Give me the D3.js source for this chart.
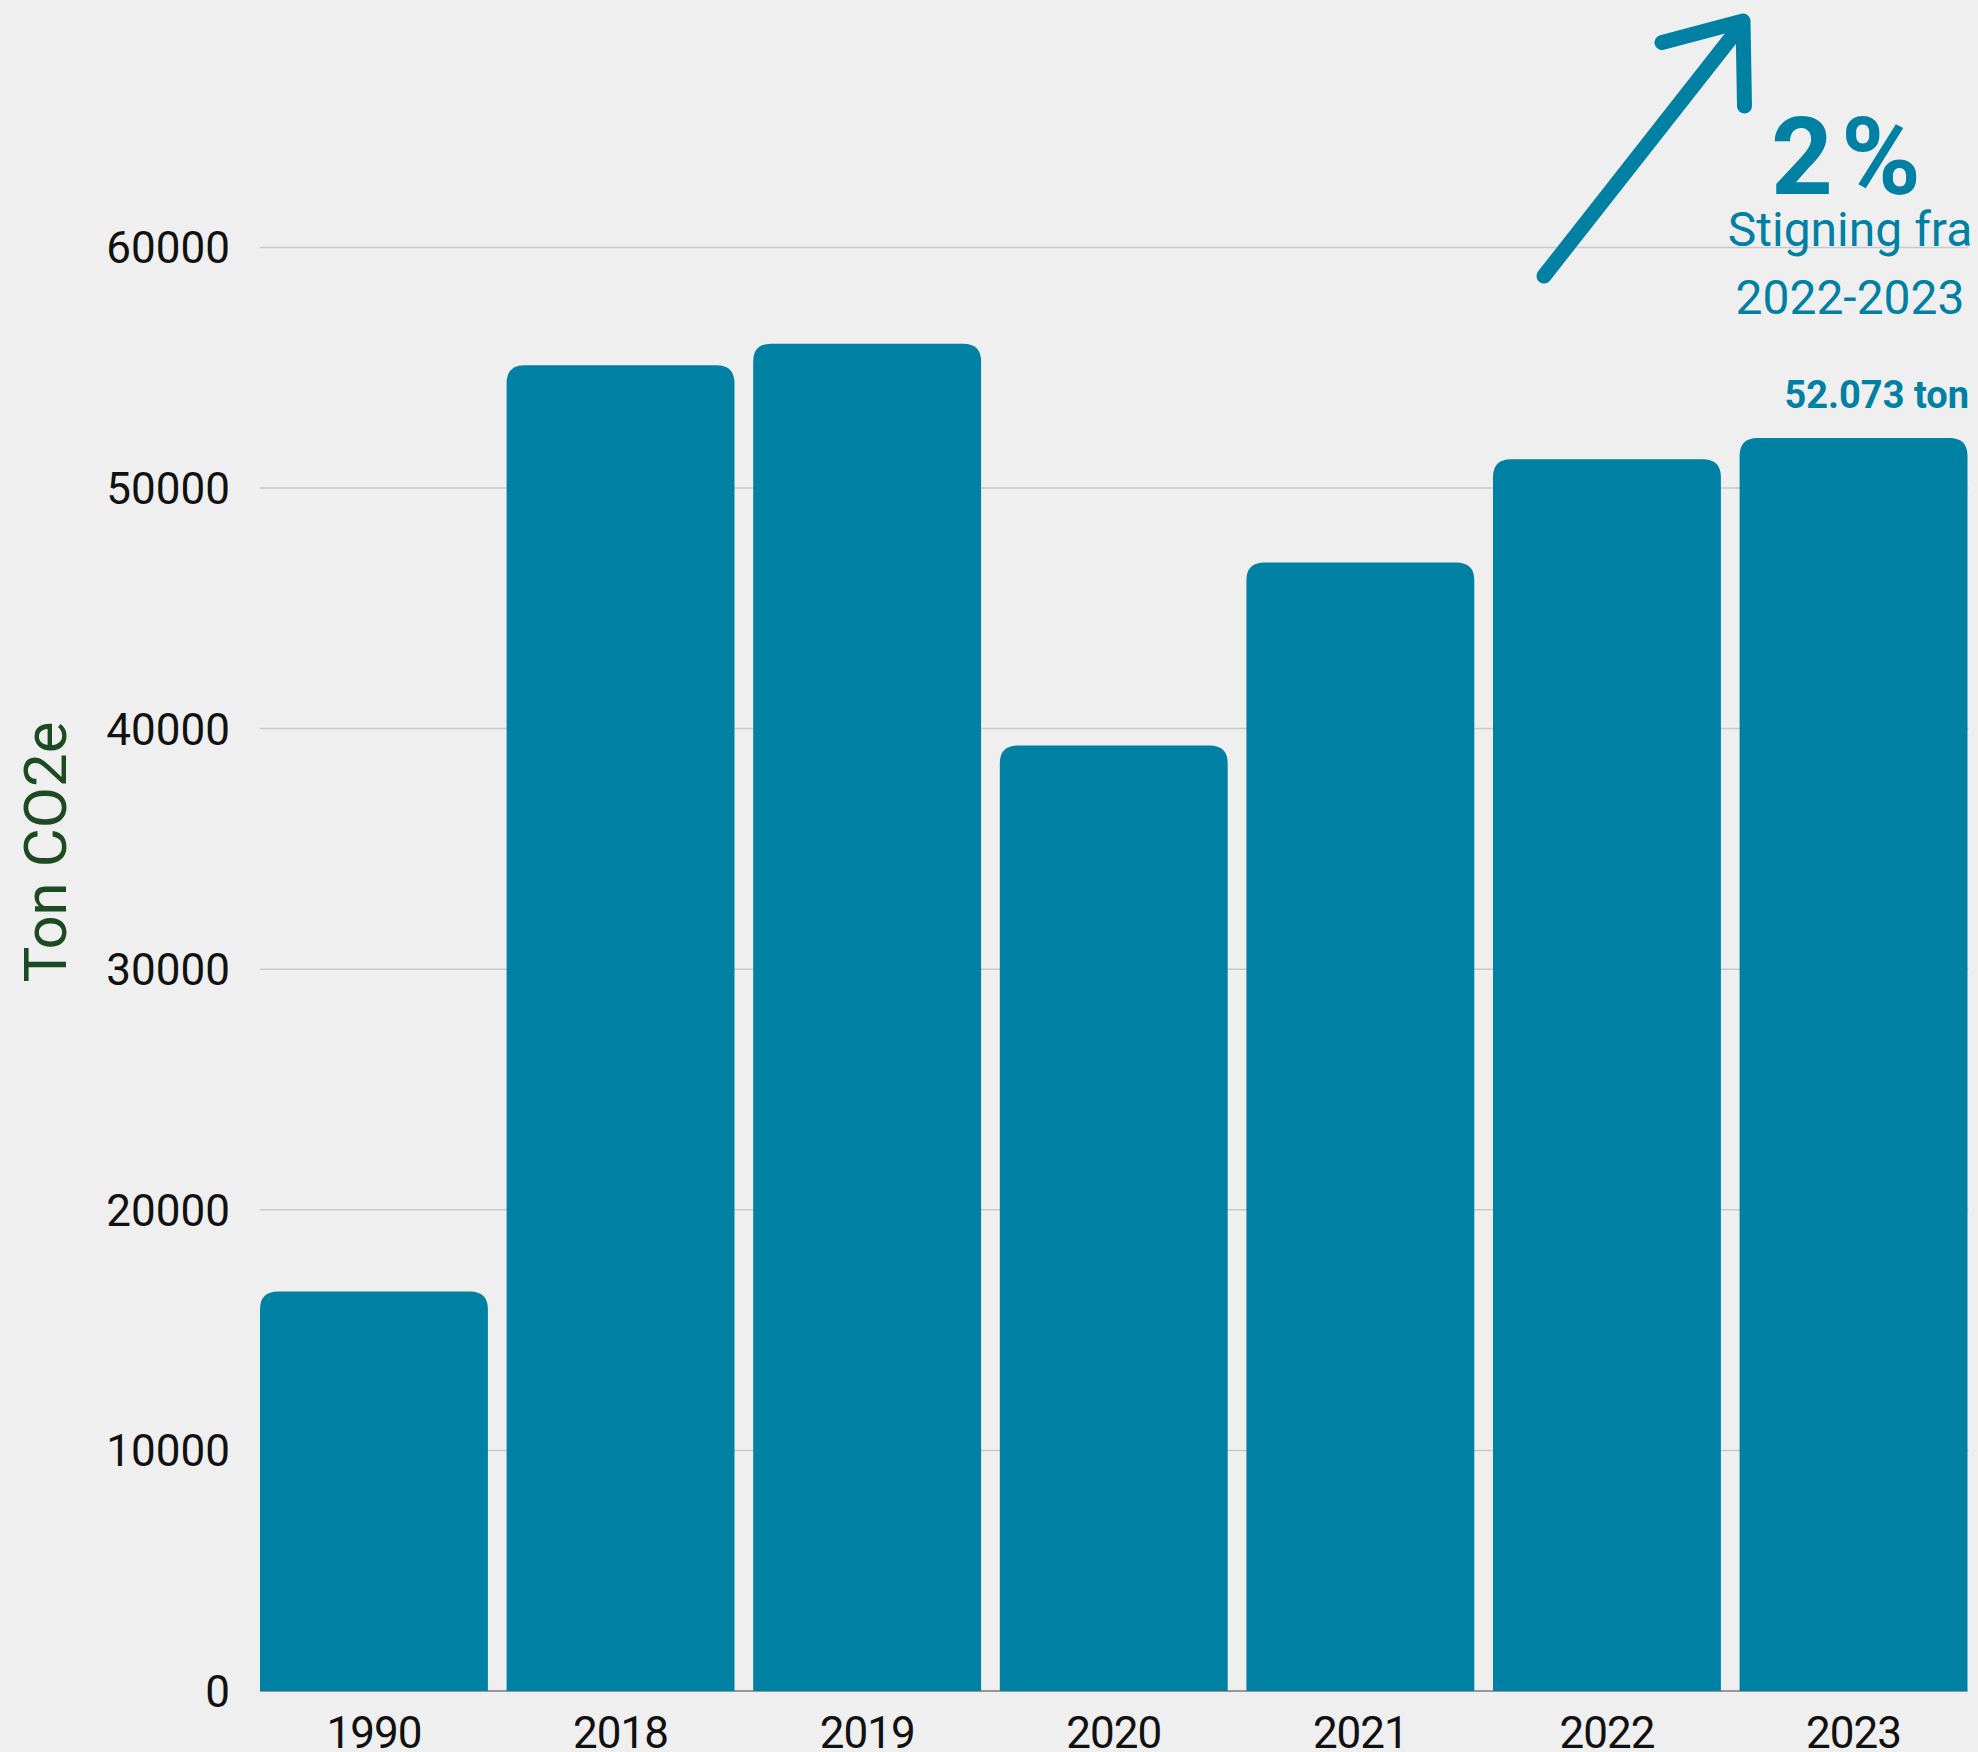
<!DOCTYPE html>
<html>
<head>
<meta charset="utf-8">
<script src="https://cdn.jsdelivr.net/npm/d3@7"></script>
<style>
  html, body { margin: 0; padding: 0; background: #efefef; }
  svg { display: block; }
  text { font-family: Roboto, "Noto Sans", sans-serif; }
</style>
</head>
<body>
<svg id="chart" width="1978" height="1752"></svg>
<script>
const categories = ["1990", "2018", "2019", "2020", "2021", "2022", "2023"];
const values = [16600, 55100, 56000, 39300, 46900, 51200, 52073];
const yTicks = [0, 10000, 20000, 30000, 40000, 50000, 60000];
const yTitle = "Ton CO2e";
const bigLabel = "2%";
const subLabel = ["Stigning fra", "2022-2023"];
const lastValueLabel = "52.073 ton";

const W = 1978, H = 1752;
const plot = { left: 260, right: 1967.5, top: 247.4, bottom: 1691 };
const barColor = "#0080a3";

const svg = d3.select("#chart");
svg.append("rect").attr("width", W).attr("height", H).attr("fill", "#efefef");

const x = d3.scaleBand().domain(categories).range([plot.left, plot.right])
  .paddingInner(0.0758).paddingOuter(0);
const y = d3.scaleLinear().domain([0, 60000]).range([plot.bottom, plot.top]);

// gridlines
svg.append("g").selectAll("line").data(yTicks.filter(d => d > 0)).join("line")
  .attr("x1", plot.left).attr("x2", plot.right + 1)
  .attr("y1", d => y(d)).attr("y2", d => y(d))
  .attr("stroke", "#c9c9c9").attr("stroke-width", 1.5);

// x axis baseline
svg.append("line").attr("x1", plot.left).attr("x2", plot.right)
  .attr("y1", plot.bottom).attr("y2", plot.bottom)
  .attr("stroke", "#7a7a7a").attr("stroke-width", 1.5);

// bars with rounded top corners
const r = 18;
function barPath(d, i) {
  const x0 = x(categories[i]), w = x.bandwidth();
  const y0 = y(d), y1 = y(0);
  return `M${x0},${y1} L${x0},${y0 + r} Q${x0},${y0} ${x0 + r},${y0} L${x0 + w - r},${y0} Q${x0 + w},${y0} ${x0 + w},${y0 + r} L${x0 + w},${y1} Z`;
}
svg.append("g").selectAll("path").data(values).join("path")
  .attr("d", (d, i) => barPath(d, i))
  .attr("fill", barColor);

// y axis
const yAxis = d3.axisLeft(y).tickValues(yTicks).tickSize(0).tickPadding(0)
  .tickFormat(d3.format("d"));
const gy = svg.append("g").attr("transform", `translate(230,0)`).call(yAxis);
gy.select(".domain").remove();
gy.selectAll("text").attr("font-size", 44).attr("fill", "#111")
  .attr("font-weight", 400).attr("dy", "0.35em")
  .style("font-family", "Roboto, sans-serif");

// x axis labels
const xAxis = d3.axisBottom(x).tickSize(0).tickPadding(0);
const gx = svg.append("g").attr("transform", `translate(0,${plot.bottom})`).call(xAxis);
gx.select(".domain").remove();
gx.selectAll("text").attr("font-size", 44).attr("fill", "#111")
  .attr("y", 57).attr("dy", 0).attr("letter-spacing", -1)
  .style("font-family", "Roboto, sans-serif");

// y title
svg.append("text")
  .attr("transform", "translate(66,852) rotate(-90)")
  .attr("text-anchor", "middle")
  .attr("font-size", 60)
  .attr("fill", "#1d4a22")
  .text(yTitle);

// arrow annotation
const arrow = svg.append("g").attr("fill", "none").attr("stroke", barColor)
  .attr("stroke-width", 15).attr("stroke-linecap", "round").attr("stroke-linejoin", "round");
arrow.append("line").attr("x1", 1544).attr("y1", 276).attr("x2", 1738).attr("y2", 29);
arrow.append("polyline").attr("points", "1662,42.5 1743,21 1744.5,106");

svg.append("text").attr("x", 1850).attr("y", 194)
  .attr("text-anchor", "middle").attr("font-size", 108).attr("font-weight", 700)
  .attr("letter-spacing", 8)
  .attr("fill", barColor).text(bigLabel);

svg.selectAll("text.sub").data(subLabel).join("text").attr("class", "sub")
  .attr("x", 1850).attr("y", (d, i) => 245.5 + i * 68.5)
  .attr("text-anchor", "middle").attr("font-size", 48)
  .attr("fill", barColor).text(d => d);

svg.append("text").attr("x", 1969).attr("y", 408)
  .attr("text-anchor", "end").attr("font-size", 38).attr("font-weight", 700)
  .attr("fill", barColor).text(lastValueLabel);
</script>
</body>
</html>
